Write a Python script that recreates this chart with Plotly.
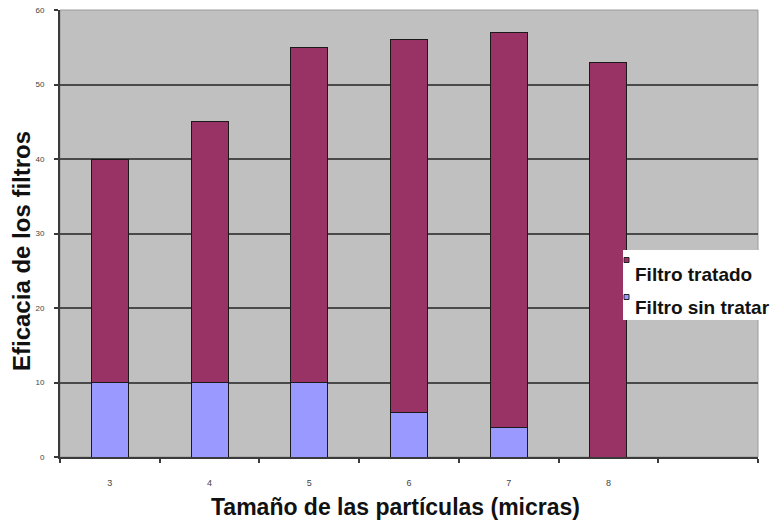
import plotly.graph_objects as go

# Particle size (microns) and filter efficiency
particle_sizes = [3, 4, 5, 6, 7, 8]
untreated = [10, 10, 10, 6, 4, 0]
treated = [30, 35, 45, 50, 53, 53]
series_names = ["Filtro tratado", "Filtro sin tratar"]
y_ticks = [0, 10, 20, 30, 40, 50, 60]
x_title = "Tamaño de las partículas (micras)"
y_title = "Eficacia de los filtros"

MAROON = "#993366"
LILAC = "#9999FF"
FONT = "Arial, Liberation Sans, sans-serif"

W, H = 775, 522
L, R, T, B = 60, 17, 10, 65
pw, ph = W - L - R, H - T - B


def px_x(x):
    return (x - L) / pw


def px_y(y):
    return (H - B - y) / ph


fig = go.Figure()
fig.add_bar(x=particle_sizes, y=untreated, name=series_names[1],
            marker=dict(color=LILAC, line=dict(color="#1a1a1a", width=1)),
            width=0.37)
fig.add_bar(x=particle_sizes, y=treated, name=series_names[0],
            marker=dict(color=MAROON, line=dict(color="#1a1a1a", width=1)),
            width=0.37)

fig.update_layout(
    width=W, height=H,
    margin=dict(l=L, r=R, t=T, b=B, autoexpand=False),
    barmode="stack",
    showlegend=False,
    paper_bgcolor="white",
    plot_bgcolor="#C0C0C0",
    font=dict(family=FONT, color="#333333"),
)

fig.update_xaxes(
    range=[2.5, 9.5],
    tickmode="array", tickvals=particle_sizes,
    ticktext=[str(v) for v in particle_sizes],
    ticks="outside", ticklen=0, tickcolor="rgba(0,0,0,0)",
    ticklabelstandoff=16,
    tickfont=dict(size=9, color="#444444"),
    minor=dict(tick0=2.5, dtick=1, ticks="outside", ticklen=4,
               tickcolor="#3a3a3a", tickwidth=1.5, showgrid=False),
    showline=True, linecolor="#3a3a3a", linewidth=2,
    showgrid=False, zeroline=False,
    fixedrange=True,
)

fig.update_yaxes(
    range=[0, 60],
    tickmode="array", tickvals=y_ticks,
    ticks="outside", ticklen=4, tickcolor="#3a3a3a", tickwidth=1.5,
    ticklabelstandoff=8,
    tickfont=dict(size=8, color="#444444"),
    showline=True, linecolor="#3a3a3a", linewidth=2,
    showgrid=True, gridcolor="#4a4a4a", gridwidth=2,
    zeroline=False,
    fixedrange=True,
)

# Axis titles
fig.add_annotation(text=f"<b>{x_title}</b>", xref="paper", yref="paper",
                   x=px_x(395), y=px_y(507), xanchor="center", yanchor="middle",
                   showarrow=False,
                   font=dict(size=23, color="#111111", family=FONT))
fig.add_annotation(text=f"<b>{y_title}</b>", xref="paper", yref="paper",
                   x=px_x(22), y=px_y(251), xanchor="center", yanchor="middle",
                   textangle=-90, showarrow=False,
                   font=dict(size=24, color="#111111", family=FONT))

# Light frame on the top and right edges of the plot area
fig.add_shape(type="rect", xref="paper", yref="paper", x0=0, x1=1, y0=0, y1=1,
              line=dict(color="#9a9a9a", width=1), fillcolor="rgba(0,0,0,0)",
              layer="below")

# Legend box drawn by hand
fig.add_shape(type="rect", xref="paper", yref="paper",
              x0=px_x(623), x1=px_x(790), y0=px_y(320), y1=px_y(250),
              line=dict(width=0), fillcolor="white", layer="above")
for color, cy in [(MAROON, 260), (LILAC, 297)]:
    fig.add_shape(type="rect", xref="paper", yref="paper",
                  x0=px_x(624), x1=px_x(629), y0=px_y(cy + 2.5), y1=px_y(cy - 2.5),
                  line=dict(color="#222222", width=1), fillcolor=color, layer="above")
for name, cy in [(series_names[0], 274), (series_names[1], 307)]:
    fig.add_annotation(text=f"<b>{name}</b>", xref="paper", yref="paper",
                       x=px_x(633), y=px_y(cy), xanchor="left", yanchor="middle",
                       showarrow=False,
                       font=dict(size=19, color="#111111", family=FONT))

fig.write_html("out.html")
